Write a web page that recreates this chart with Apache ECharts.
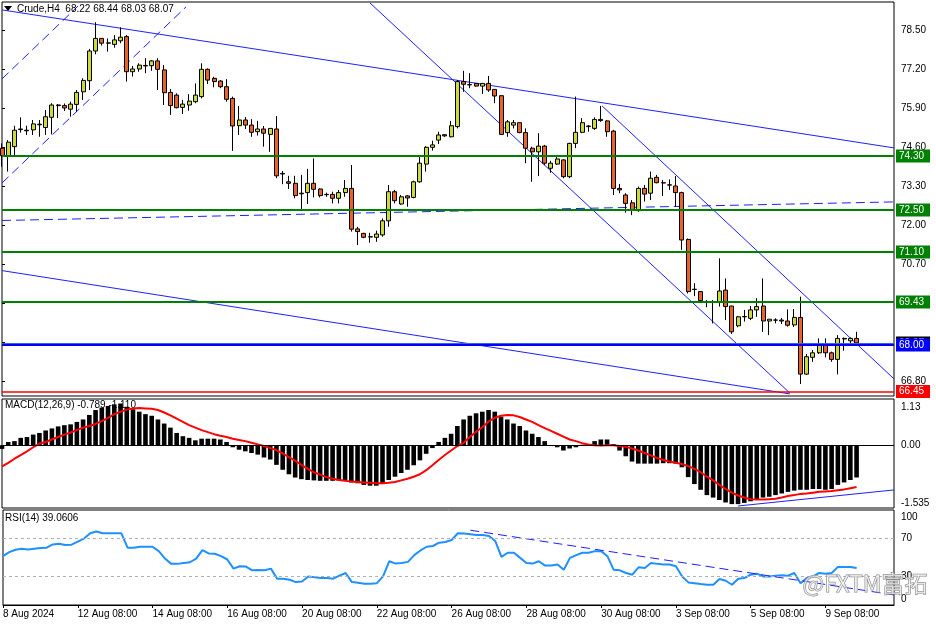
<!DOCTYPE html>
<html><head><meta charset="utf-8">
<script src="https://cdn.jsdelivr.net/npm/echarts@6/dist/echarts.min.js"></script>
<style>html,body{margin:0;padding:0;background:#fff}#c{width:936px;height:624px}</style>
</head><body><div id="c"></div>
<script>
// ---------- DATA ----------
const tradingDays = ['8 Aug','9 Aug','12 Aug','13 Aug','14 Aug','15 Aug','16 Aug','19 Aug','20 Aug','21 Aug','22 Aug','23 Aug','26 Aug','27 Aug','28 Aug','29 Aug','30 Aug','2 Sep','3 Sep','4 Sep','5 Sep','6 Sep','9 Sep','10 Sep','11 Sep'];
const barHours = ['00:00','04:00','08:00','12:00','16:00','20:00'];
const timeTicks = ['8 Aug 08:00','12 Aug 08:00','14 Aug 08:00','16 Aug 08:00','20 Aug 08:00','22 Aug 08:00','26 Aug 08:00','28 Aug 08:00','30 Aug 08:00','3 Sep 08:00','5 Sep 08:00','9 Sep 08:00'];
const timeTickText = ['8 Aug 2024','12 Aug 08:00','14 Aug 08:00','16 Aug 08:00','20 Aug 08:00','22 Aug 08:00','26 Aug 08:00','28 Aug 08:00','30 Aug 08:00','3 Sep 08:00','5 Sep 08:00','9 Sep 08:00'];

const opens = [74.56,74.31,74.61,75.18,75.16,75.17,75.36,75.25,75.59,76.00,
75.98,75.86,76.02,76.44,76.81,77.80,78.22,78.06,78.02,78.14,
78.28,77.11,77.20,77.30,77.31,77.47,77.17,76.42,76.33,75.92,
76.00,76.11,76.28,77.19,76.89,76.80,76.61,76.22,75.31,75.50,
75.33,75.11,75.20,75.02,75.20,73.70,73.44,73.39,73.06,73.08,
73.39,73.20,73.02,73.02,72.89,73.08,73.22,71.87,71.72,71.60,
71.59,71.67,72.14,73.11,72.70,72.97,72.92,73.44,74.03,74.59,
74.83,75.01,74.94,75.28,76.78,76.67,76.72,76.63,76.72,76.52,
76.31,75.08,75.33,75.41,75.08,74.56,74.44,74.63,73.89,74.03,
74.17,73.61,74.72,75.09,75.30,75.22,75.52,75.47,75.13,73.22,
73.00,72.74,72.48,73.22,73.06,73.59,73.41,73.33,73.30,73.08,
71.52,69.86,69.78,69.43,69.42,69.44,69.83,69.30,68.64,68.94,
68.89,69.17,69.30,68.80,68.83,68.83,68.80,68.67,68.92,67.03,
67.59,67.74,68.00,67.74,67.52,68.20,68.14,68.22];
const closes = [74.31,74.76,75.16,75.20,75.14,75.37,75.34,75.61,76.00,75.98,
75.90,76.03,76.42,76.82,77.80,78.22,78.06,78.07,78.17,78.26,
77.11,77.20,77.33,77.32,77.47,77.19,76.41,75.98,75.91,76.03,
76.13,76.33,77.19,76.83,76.78,76.61,76.19,75.30,75.50,75.33,
75.09,75.20,75.06,75.22,73.64,73.72,73.39,72.98,73.04,73.39,
73.19,72.98,73.01,72.89,73.08,73.22,71.86,71.78,71.59,71.61,
71.70,72.14,73.11,72.81,72.94,72.90,73.44,74.06,74.59,74.67,
75.00,74.97,75.31,76.78,76.69,76.68,76.63,76.72,76.50,76.30,
75.02,75.44,75.41,75.08,74.56,74.44,74.63,74.06,74.06,74.20,
73.61,74.72,75.09,75.41,75.28,75.52,75.48,75.11,73.22,73.17,
72.72,72.50,73.22,73.03,73.56,73.41,73.40,73.34,73.08,71.50,
69.78,69.85,69.48,69.42,69.43,69.80,69.28,68.44,68.94,68.95,
69.17,69.28,68.80,68.86,68.83,68.80,68.66,68.92,67.03,67.61,
67.74,68.00,67.74,67.52,68.22,68.22,68.22,68.07];
const highs = [74.72,74.83,75.31,75.59,75.31,75.50,75.50,75.83,76.06,76.03,
76.05,76.11,76.50,76.89,77.87,78.76,78.22,78.22,78.33,78.59,
78.33,77.30,77.39,77.56,77.50,77.56,77.33,76.53,76.39,76.17,
76.36,76.72,77.39,77.22,76.94,76.83,76.86,76.28,75.97,75.60,
75.53,75.47,75.30,75.22,75.63,73.80,73.64,73.64,73.67,73.87,
74.22,73.22,73.08,73.11,73.17,73.50,74.00,71.94,71.74,71.74,
71.81,72.22,73.33,73.17,73.00,73.00,73.48,74.28,74.63,74.81,
75.11,75.03,75.47,76.83,77.14,77.06,76.72,76.72,76.97,76.52,
76.33,75.50,75.50,75.41,75.22,74.61,75.06,74.67,74.14,74.28,
74.19,74.74,76.28,75.56,75.33,75.59,75.97,75.50,75.17,73.37,
73.06,72.83,73.28,73.33,73.78,73.67,73.50,73.52,73.63,73.11,
71.55,70.06,69.80,69.50,69.50,70.89,70.22,69.30,68.97,69.17,
69.30,69.56,70.22,68.86,68.89,68.90,69.19,69.20,69.61,67.70,
67.83,68.22,68.22,67.78,68.33,68.25,68.25,68.44];
const lows = [73.94,73.78,74.28,75.08,75.00,75.00,74.94,75.00,75.02,75.56,
75.80,75.61,75.78,76.17,76.50,77.69,77.98,77.78,77.91,78.06,
76.78,76.95,77.11,77.06,77.14,76.50,76.00,75.67,75.89,75.70,
75.81,76.06,76.22,76.70,76.59,76.56,76.11,74.47,75.00,75.20,
74.94,74.98,74.61,74.44,73.56,73.36,73.20,72.89,72.50,72.70,
72.92,72.92,72.94,72.72,72.72,72.94,71.78,71.33,71.56,71.41,
71.44,71.61,71.94,72.72,72.67,72.61,72.89,73.41,73.78,74.48,
74.70,74.94,74.92,75.22,76.44,76.56,76.61,76.37,76.44,76.06,
75.00,74.94,75.22,75.06,74.06,73.44,73.63,74.00,73.74,74.00,
73.56,73.56,74.56,75.06,75.11,75.17,75.44,74.94,73.00,73.06,
72.41,72.33,72.44,72.78,72.83,73.39,72.97,73.17,72.61,71.17,
69.72,69.63,69.44,69.26,68.72,69.28,68.83,68.37,68.59,68.78,
68.83,68.94,68.44,68.33,68.72,68.70,68.61,68.60,66.70,67.00,
67.44,67.70,67.59,67.44,67.02,67.81,68.06,68.03];

const macdHist = [-0.09,0.08,0.10,0.18,0.20,0.26,0.30,0.36,0.41,0.46,
0.49,0.51,0.57,0.63,0.74,0.86,0.92,0.96,1.00,1.02,
0.94,0.88,0.82,0.76,0.72,0.63,0.53,0.43,0.30,0.22,
0.18,0.12,0.16,0.16,0.16,0.14,0.08,-0.05,-0.11,-0.15,
-0.19,-0.23,-0.30,-0.35,-0.48,-0.60,-0.71,-0.79,-0.83,-0.85,
-0.86,-0.87,-0.87,-0.87,-0.86,-0.87,-0.91,-0.93,-0.97,-0.99,
-0.99,-0.95,-0.85,-0.77,-0.68,-0.60,-0.49,-0.37,-0.21,-0.07,
0.08,0.18,0.28,0.47,0.63,0.72,0.78,0.82,0.86,0.82,
0.70,0.63,0.53,0.47,0.36,0.28,0.20,0.10,-0.02,-0.05,
-0.13,-0.08,-0.05,0.01,0.02,0.10,0.14,0.14,0.03,-0.13,
-0.27,-0.40,-0.45,-0.45,-0.45,-0.45,-0.44,-0.44,-0.45,-0.54,
-0.78,-0.95,-1.09,-1.22,-1.28,-1.34,-1.40,-1.44,-1.44,-1.41,
-1.37,-1.32,-1.28,-1.26,-1.22,-1.18,-1.14,-1.11,-1.09,-1.09,
-1.07,-1.07,-1.09,-1.07,-0.97,-0.91,-0.85,-0.789];
const macdSignal = [-0.52,-0.43,-0.33,-0.24,-0.15,-0.05,0.04,0.08,0.14,0.20,
0.26,0.31,0.37,0.43,0.47,0.52,0.59,0.67,0.76,0.82,
0.87,0.90,0.91,0.90,0.89,0.86,0.80,0.73,0.65,0.57,
0.49,0.43,0.37,0.32,0.27,0.23,0.20,0.16,0.13,0.10,
0.06,0.02,-0.02,-0.07,-0.12,-0.20,-0.29,-0.38,-0.48,-0.58,
-0.66,-0.72,-0.78,-0.82,-0.85,-0.87,-0.89,-0.90,-0.91,-0.92,
-0.93,-0.93,-0.92,-0.90,-0.86,-0.82,-0.77,-0.71,-0.61,-0.49,
-0.36,-0.24,-0.13,-0.02,0.06,0.20,0.33,0.44,0.58,0.67,
0.72,0.74,0.73,0.69,0.63,0.57,0.49,0.42,0.35,0.28,
0.21,0.14,0.10,0.05,0.02,0.00,-0.01,0.00,0.00,-0.02,
-0.04,-0.08,-0.13,-0.19,-0.25,-0.31,-0.36,-0.40,-0.43,-0.46,
-0.51,-0.58,-0.66,-0.77,-0.86,-0.97,-1.07,-1.16,-1.23,-1.28,
-1.32,-1.33,-1.33,-1.32,-1.31,-1.28,-1.24,-1.22,-1.19,-1.18,
-1.16,-1.14,-1.13,-1.12,-1.10,-1.08,-1.05,-1.02];
const rsiValues = [51.4,55.7,58.2,59.2,58.5,59.2,59.9,60.3,63.8,64.5,
63.1,63.5,66.7,69.9,75.5,77.3,75.5,75.5,75.5,75.5,
60.3,60.3,61.3,61.3,61.3,56.7,48.9,43.3,43.3,44.3,
45.0,48.9,57.8,54.3,53.9,51.4,47.9,38.3,40.8,40.4,
36.5,36.9,36.5,38.3,27.7,27.7,26.6,24.1,24.8,30.1,
29.1,28.4,28.4,27.7,30.9,33.7,24.1,23.4,22.3,22.3,
23.0,30.1,46.1,43.6,44.3,45.4,52.5,57.4,61.3,62.1,
65.6,66.3,68.4,75.5,75.2,74.5,73.8,73.8,72.7,67.4,
50.7,55.0,55.0,49.6,44.3,43.6,46.1,41.5,41.5,42.6,
37.2,49.6,52.5,55.0,55.0,56.7,56.7,51.4,37.2,36.5,
33.7,31.9,39.7,39.0,44.3,43.3,42.6,42.6,40.8,30.1,
23.8,23.0,22.0,21.3,21.3,27.3,25.5,21.3,27.7,28.4,
31.9,33.0,30.1,30.1,30.9,31.2,30.9,33.7,23.0,28.4,
30.1,33.7,33.0,33.7,40.1,40.1,40.1,39.06];

const priceTicks = [78.50,77.20,75.90,74.60,73.30,72.00,70.70,69.40,68.10,66.80];
const macdTicks = [1.13,0,-1.535];
const rsiTicks = [100,70,30,0];
const rsiLevels = [70,30];
const levelValues = [74.30,72.50,71.10,69.43,68.07,68.00,66.45];

// trend lines: [bar index, value]
const upperTrend = [[0,79.17],[143,74.57]];
const steepChannelLow = [[59.0,79.4],[126.3,66.4]];
const steepChannelHigh = [[96.2,75.97],[143,66.87]];
const flatDashed = [[0,72.15],[143,72.77]];
const lowerTrend = [[0,70.48],[126.3,66.37]];
const earlyChannelA = [[0,76.87],[12.2,79.3]];
const earlyChannelB = [[0,73.4],[29.5,79.27]];
const macdTrend = [[118,-1.486],[143,-1.093]];
const rsiTrend = [[75,78.7],[143,10.6]];

const headerText = 'Crude,H4  68.22 68.44 68.03 68.07';
const macdText = 'MACD(12,26,9) -0.789 -1.110';
const rsiText = 'RSI(14) 39.0606';
const watermark = '@FXTM富拓';

// ---------- BUILD ----------
const categories = [];
tradingDays.forEach((d,k)=>barHours.forEach((h,j)=>{ if(k===0 && j<2) return; categories.push(d+' '+h); }));
categories.length = 144;
const candleData = opens.map((o,i)=>[o, closes[i], lows[i], highs[i]]);

const FONT = 'Liberation Sans';
const BLUE = '#1f1fff';
const gridBase = {left:2, right:42, show:true, borderColor:'#000', borderWidth:1};
const catAxis = (g, show) => ({
  type:'category', gridIndex:g, data:categories, boundaryGap:false,
  axisLine:{show:show, lineStyle:{color:'#000'}},
  axisTick:{show:show, length:3, lineStyle:{color:'#000'}, interval:(i,v)=>timeTicks.includes(v)},
  axisLabel:{show:show, interval:(i,v)=>timeTicks.includes(v), formatter:v=>timeTickText[timeTicks.indexOf(v)]||'',
    align:'left', color:'#000', fontSize:10, fontFamily:FONT, margin:4},
  splitLine:{show:false}
});
const valAxisX = g => ({type:'value', gridIndex:g, min:0, max:143, show:false});
const yLabelBase = {color:'#000', fontSize:10, fontFamily:FONT, margin:7};

const trend = (data, xi, yi, dashed) => ({
  type:'line', xAxisIndex:xi, yAxisIndex:yi, data:data, showSymbol:false, silent:true,
  animation:false, z:3,
  lineStyle:{color:BLUE, width:1, type: dashed ? [9,5] : 'solid'}
});

const levelStyles = [
  {line:'#008000', bg:'#008000', w:2},
  {line:'#008000', bg:'#008000', w:2},
  {line:'#008000', bg:'#008000', w:2},
  {line:'#008000', bg:'#008000', w:2},
  {line:'#4060d8', bg:'#000000', w:1},
  {line:'#0000ff', bg:'#0000ff', w:2},
  {line:'#ff0000', bg:'#ff0000', w:1.5}
];

const option = {
  animation:false,
  backgroundColor:'#fff',
  grid:[
    Object.assign({top:2, height:394}, gridBase),
    Object.assign({top:399, height:109}, gridBase),
    Object.assign({top:510, height:95}, gridBase)
  ],
  xAxis:[catAxis(0,false), catAxis(1,false), catAxis(2,true), valAxisX(0), valAxisX(1), valAxisX(2)],
  yAxis:[
    {type:'value', gridIndex:0, position:'right', min:66.3, max:79.4333, splitLine:{show:false},
      axisLine:{show:false}, axisTick:{show:true, length:3, customValues:priceTicks, lineStyle:{color:'#000'}},
      axisLabel:Object.assign({customValues:priceTicks, formatter:v=>v.toFixed(2)}, yLabelBase)},
    {type:'value', gridIndex:1, position:'right', min:-1.535, max:1.13, splitLine:{show:false},
      axisLine:{show:false}, axisTick:{show:false},
      axisLabel:Object.assign({customValues:macdTicks,
        formatter:v=> v===macdTicks[0] ? '{t|'+v.toFixed(2)+'}' : (v===macdTicks[2] ? '{b|'+v.toFixed(3)+'}' : v.toFixed(2)),
        rich:{t:{padding:[16,0,0,0], fontSize:10, fontFamily:FONT, color:'#000'}, b:{padding:[0,0,10,0], fontSize:10, fontFamily:FONT, color:'#000'}}}, yLabelBase)},
    {type:'value', gridIndex:2, position:'right', min:0, max:100, splitLine:{show:false},
      axisLine:{show:false}, axisTick:{show:false},
      axisLabel:Object.assign({customValues:rsiTicks,
        formatter:v=> v===100 ? '{t|'+v+'}' : (v===0 ? '{b|'+v+'}' : String(v)),
        rich:{t:{padding:[14,0,0,0], fontSize:10, fontFamily:FONT, color:'#000'}, b:{padding:[0,0,12,0], fontSize:10, fontFamily:FONT, color:'#000'}}}, yLabelBase)}
  ],
  series:[
    {type:'candlestick', xAxisIndex:0, yAxisIndex:0, data:candleData, barWidth:4.5, z:4,
      itemStyle:{color:'#cddb3a', color0:'#e8622c', borderColor:'#000', borderColor0:'#000', borderWidth:1},
      markLine:{silent:true, symbol:['none','none'], animation:false,
        data: levelValues.map((v,k)=>({yAxis:v,
          lineStyle:{color:levelStyles[k].line, width:levelStyles[k].w, type:'solid'},
          label:{show:true, position:'end', distance:2, formatter:v.toFixed(2), color:'#fff',
            backgroundColor:levelStyles[k].bg, padding:[2,6,1,3], fontSize:10, fontFamily:FONT}}))}},
    trend(upperTrend,3,0,false),
    trend(steepChannelLow,3,0,false),
    trend(steepChannelHigh,3,0,false),
    trend(flatDashed,3,0,true),
    trend(lowerTrend,3,0,false),
    trend(earlyChannelA,3,0,true),
    trend(earlyChannelB,3,0,true),
    {type:'bar', xAxisIndex:1, yAxisIndex:1, data:macdHist, barWidth:4.6, itemStyle:{color:'#000'}, z:2,
      markLine:{silent:true, symbol:['none','none'], label:{show:false}, lineStyle:{color:'#000', width:1, type:'solid'},
        data:[{yAxis:0}]}},
    {type:'line', xAxisIndex:1, yAxisIndex:1, data:macdSignal, showSymbol:false, z:3,
      lineStyle:{color:'#ff0000', width:2}},
    trend(macdTrend,4,1,false),
    {type:'line', xAxisIndex:2, yAxisIndex:2, data:rsiValues, showSymbol:false, z:3,
      lineStyle:{color:'#1e90ff', width:2},
      markLine:{silent:true, symbol:['none','none'], label:{show:false},
        lineStyle:{color:'#b0b0b0', width:1, type:[3,3]}, data:rsiLevels.map(v=>({yAxis:v}))}},
    trend(rsiTrend,5,2,true)
  ],
  graphic:[
    {type:'polygon', shape:{points:[[4,6],[12,6],[8,11]]}, style:{fill:'#000'}, z:10},
    {type:'text', left:17, top:4, style:{text:headerText, font:'10px "Liberation Sans"', fill:'#000'}, z:10},
    {type:'text', left:5, top:400, style:{text:macdText, font:'10px "Liberation Sans"', fill:'#000'}, z:0},
    {type:'text', left:5, top:513, style:{text:rsiText, font:'10px "Liberation Sans"', fill:'#000'}, z:0},
    {type:'text', left:802, top:571, style:{text:watermark, font:'23px "Noto Sans CJK SC"', fill:'rgba(255,255,255,0.55)', stroke:'#8a8a8a', lineWidth:1}, z:20}
  ]
};
const chart = echarts.init(document.getElementById('c'), null, {renderer:'canvas'});
chart.setOption(option);
</script></body></html>
